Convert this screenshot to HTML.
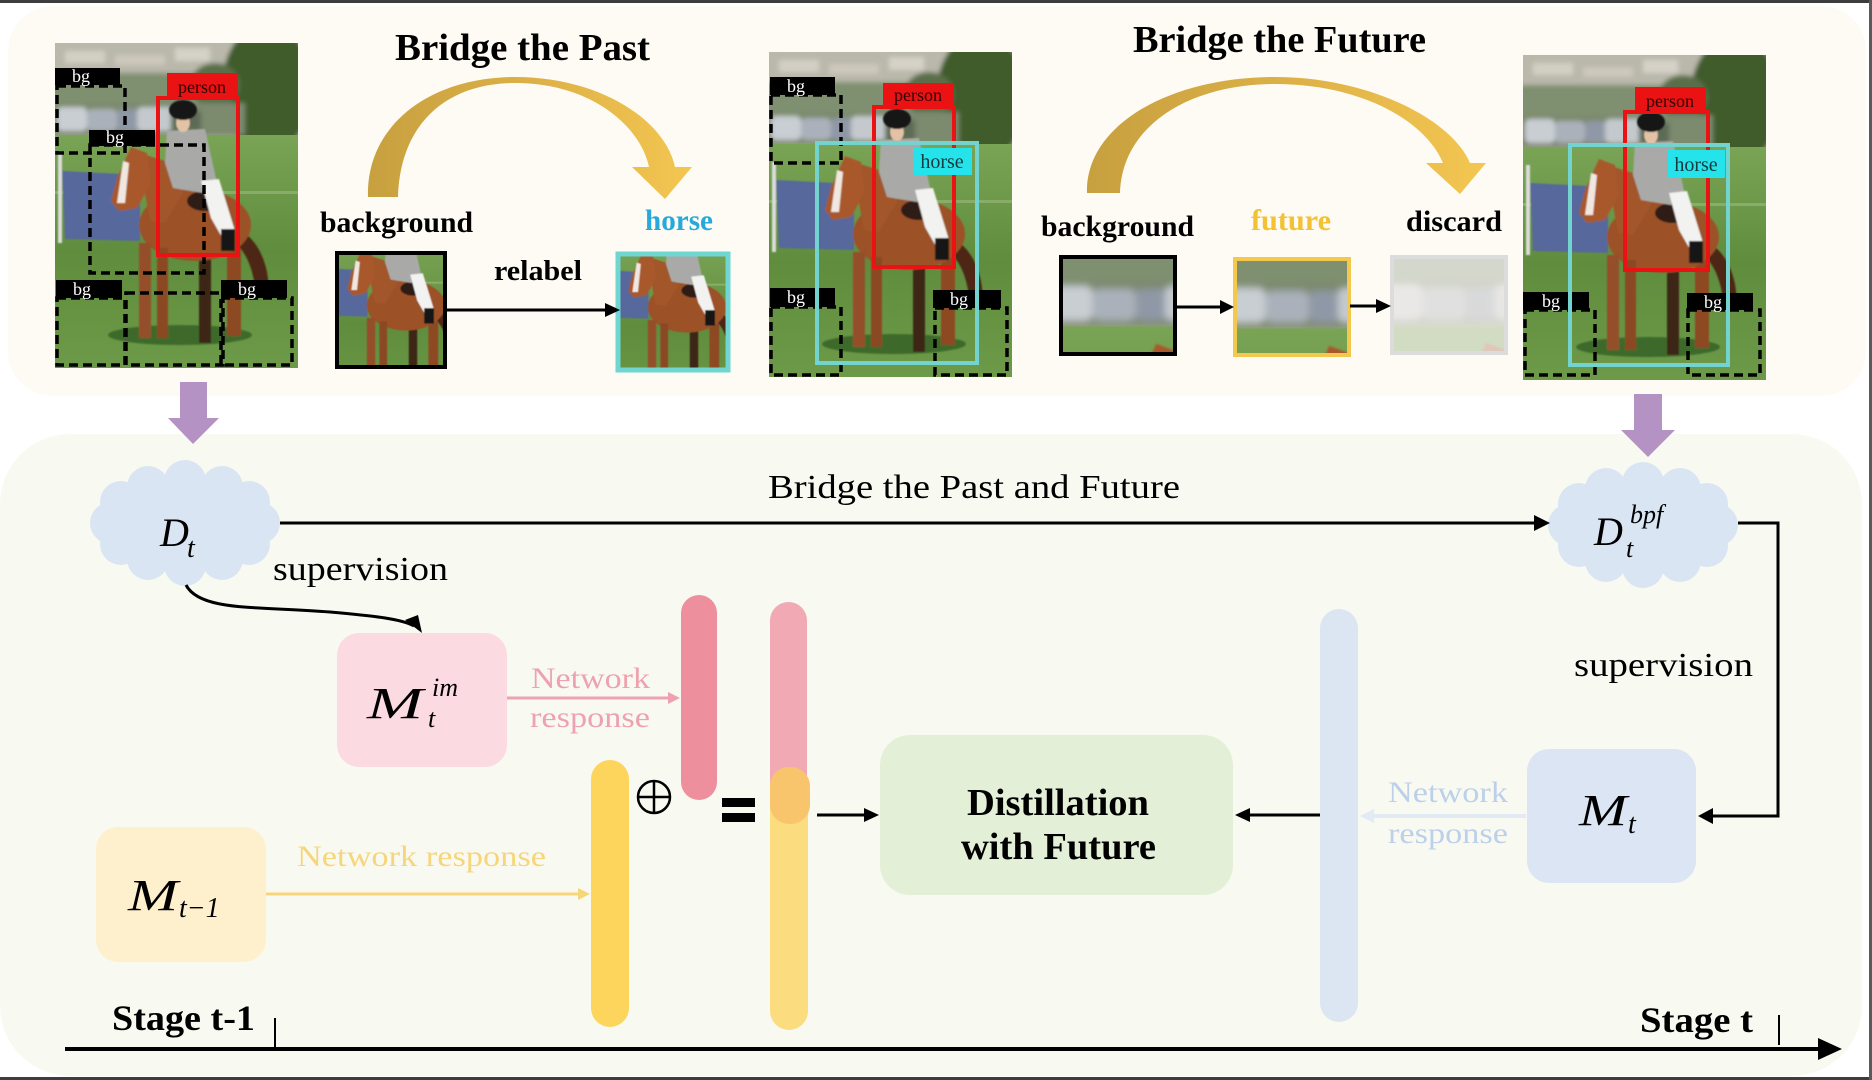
<!DOCTYPE html>
<html><head><meta charset="utf-8"><style>
html,body{margin:0;padding:0;background:#fff;font-family:"Liberation Serif","Times New Roman",Times,serif;}
svg{display:block;font-family:"Liberation Serif","Times New Roman",Times,serif;}
svg text{font-family:"Liberation Serif","Times New Roman",Times,serif;}
</style></head><body>
<svg width="1872" height="1080" viewBox="0 0 1872 1080" xmlns="http://www.w3.org/2000/svg" font-family="Liberation Serif, Times New Roman, Times, serif">
<defs>
<linearGradient id="gold" x1="0" y1="0" x2="1" y2="0">
<stop offset="0" stop-color="#c7a03f"/><stop offset="0.5" stop-color="#dcb047"/><stop offset="1" stop-color="#f4c651"/>
</linearGradient>
<linearGradient id="grass" x1="0" y1="0" x2="0" y2="1">
<stop offset="0" stop-color="#7aa455"/><stop offset="0.5" stop-color="#5f8d3d"/><stop offset="1" stop-color="#6c9a48"/>
</linearGradient>
<filter id="blur" x="-10%" y="-10%" width="120%" height="120%"><feGaussianBlur stdDeviation="2.5"/></filter>
<filter id="sblur" x="-10%" y="-10%" width="120%" height="120%"><feGaussianBlur stdDeviation="0.8"/></filter>
<g id="ph">
<rect width="243" height="325" fill="#6a9446"/>
<g filter="url(#blur)">
<rect x="-5" y="-5" width="253" height="105" fill="#9ea48e"/>
<rect x="-5" y="-5" width="253" height="35" fill="#b9b8aa"/>
<rect x="10" y="8" width="40" height="12" fill="#d3cfc4"/>
<rect x="60" y="12" width="50" height="10" fill="#cdc8bc"/>
<rect x="120" y="5" width="35" height="13" fill="#d6d2c8"/>
<rect x="-5" y="30" width="253" height="32" fill="#7f9070"/>
<ellipse cx="212" cy="45" rx="45" ry="65" fill="#3f5b2c"/>
<ellipse cx="160" cy="42" rx="25" ry="22" fill="#5a6e48"/>
<rect x="-5" y="60" width="195" height="32" fill="#7b8a6e"/>
<rect x="2" y="64" width="30" height="24" rx="5" fill="#c9ced3"/>
<rect x="32" y="66" width="30" height="22" rx="5" fill="#aab1ba"/>
<rect x="62" y="66" width="22" height="22" rx="5" fill="#8f98a6"/>
<rect x="82" y="64" width="36" height="24" rx="5" fill="#c4c9ce"/>
<rect x="116" y="68" width="30" height="20" fill="#5d6b55"/>
</g>
<rect x="0" y="92" width="243" height="233" fill="url(#grass)"/>
<rect x="0" y="148" width="243" height="3" fill="#a6c08c" opacity=".5"/>
<g filter="url(#sblur)">
<path d="M7 128 L85 132 L85 198 L10 196 Z" fill="#56679c"/>
<rect x="3" y="110" width="4" height="90" fill="#dcdcdc"/>
<ellipse cx="125" cy="292" rx="72" ry="10" fill="#3e6a2a"/>
<path d="M186 188 C205 198 216 228 213 252 L201 250 C198 226 192 210 180 200Z" fill="#4d2812"/>
<rect x="172" y="205" width="14" height="88" fill="#8d4a22"/>
<rect x="144" y="205" width="12" height="95" fill="#3c2618"/>
<ellipse cx="140" cy="182" rx="56" ry="36" fill="#9c5128"/>
<path d="M78 108 L110 118 L128 150 L110 180 L95 178 L88 140Z" fill="#a2562a"/>
<path d="M76 104 L92 110 L96 140 L82 165 L64 168 L56 158 L62 135 Z" fill="#a8592b"/>
<path d="M68 118 L74 120 L70 160 L62 160 Z" fill="#f0e8e0"/>
<rect x="84" y="200" width="12" height="95" fill="#94502a"/>
<rect x="102" y="205" width="11" height="90" fill="#8a4824"/>
<ellipse cx="150" cy="158" rx="18" ry="10" fill="#2d1e16"/>
<path d="M112 88 L150 86 L162 140 L148 150 L118 145 L110 120Z" fill="#a9aaa8"/>
<path d="M146 138 L164 136 L180 188 L168 196 L156 175Z" fill="#f2f2f0"/>
<rect x="166" y="186" width="14" height="22" fill="#151515"/>
<ellipse cx="128" cy="80" rx="7" ry="9" fill="#e3c2a6"/>
<ellipse cx="128" cy="67" rx="14" ry="10" fill="#141414"/>
</g>
</g>
<g id="cloud" fill="#dae5f3">
<ellipse cx="185" cy="523" rx="82" ry="50"/>
<circle cx="259" cy="523" r="21"/><circle cx="249" cy="544" r="21"/><circle cx="222" cy="559" r="21"/>
<circle cx="185" cy="565" r="21"/><circle cx="148" cy="559" r="21"/><circle cx="121" cy="544" r="21"/>
<circle cx="111" cy="523" r="21"/><circle cx="121" cy="502" r="21"/><circle cx="148" cy="487" r="21"/>
<circle cx="185" cy="481" r="21"/><circle cx="222" cy="487" r="21"/><circle cx="249" cy="502" r="21"/>
</g>
<clipPath id="c1"><rect x="339" y="255" width="104" height="110"/></clipPath>
<clipPath id="c2"><rect x="620" y="256" width="106" height="112"/></clipPath>
<clipPath id="c3"><rect x="1063" y="259" width="110" height="93"/></clipPath>
<clipPath id="c4"><rect x="1236" y="261" width="112" height="93"/></clipPath>
<clipPath id="c5"><rect x="1393" y="258" width="112" height="93"/></clipPath>
<clipPath id="p1"><rect x="55" y="43" width="243" height="325"/></clipPath>
<clipPath id="p2"><rect x="769" y="52" width="243" height="328"/></clipPath>
<clipPath id="p3"><rect x="1523" y="55" width="243" height="327"/></clipPath>
</defs>

<!-- panels -->
<rect x="8" y="6" width="1858" height="390" rx="45" fill="#fdfbf3"/>
<rect x="0" y="434" width="1862" height="642" rx="70" fill="#f8faf2"/>
<rect x="0" y="0" width="1872" height="3" fill="#3d3d3d"/>
<rect x="0" y="1077" width="1872" height="3" fill="#3d3d3d"/>
<rect x="1869" y="0" width="3" height="1080" fill="#5a5a5a"/>

<!-- Photo 1 -->
<g clip-path="url(#p1)"><use href="#ph" transform="translate(55,43)"/></g>
<g transform="translate(55,43)">
<g fill="none" stroke="#000" stroke-width="3.5" stroke-dasharray="9 5">
<rect x="2" y="43" width="68" height="67"/>
<rect x="35" y="102" width="114" height="128"/>
<rect x="2" y="255" width="68" height="67"/>
<rect x="71" y="250" width="97" height="72"/>
<rect x="166" y="255" width="71" height="67"/>
</g>
<rect x="103" y="55" width="80" height="157" fill="none" stroke="#ea1212" stroke-width="4"/>
<rect x="112" y="30" width="71" height="26" fill="#ea1212"/>
<text x="147" y="50" font-size="18" text-anchor="middle" fill="#2a0505">person</text>
<g fill="#000"><rect x="0" y="25" width="65" height="17"/><rect x="34" y="87" width="66" height="16"/><rect x="1" y="237" width="66" height="18"/><rect x="166" y="237" width="66" height="18"/></g>
<g fill="#fff" font-size="18" text-anchor="middle"><text x="26" y="39">bg</text><text x="60" y="100">bg</text><text x="27" y="252">bg</text><text x="192" y="252">bg</text></g>
</g>

<!-- Title Past -->
<text x="395" y="60" font-size="38" font-weight="bold" textLength="255" lengthAdjust="spacingAndGlyphs">Bridge the Past</text>
<path d="M368 197 C366 125 430 77 515 77 C600 77 665 120 675 167 L692 167 L665 199 L632 167 L649 167 C640 125 590 83 515 83 C445 83 400 125 398 197 Z" fill="url(#gold)"/>
<text x="320" y="232" font-size="30" font-weight="bold" textLength="153" lengthAdjust="spacingAndGlyphs">background</text>
<text x="645" y="230" font-size="30" font-weight="bold" fill="#27a9dc" textLength="68" lengthAdjust="spacingAndGlyphs">horse</text>
<text x="494" y="280" font-size="28" font-weight="bold" textLength="88" lengthAdjust="spacingAndGlyphs">relabel</text>
<g clip-path="url(#c1)"><use href="#ph" transform="translate(308,178) scale(0.7)"/></g>
<rect x="337" y="253" width="108" height="114" fill="none" stroke="#000" stroke-width="4"/>
<g clip-path="url(#c2)"><use href="#ph" transform="translate(589,180) scale(0.7)"/></g>
<rect x="618" y="254" width="110" height="116" fill="none" stroke="#6fd6d2" stroke-width="5"/>
<line x1="445" y1="310" x2="608" y2="310" stroke="#000" stroke-width="3"/>
<path d="M605 303 L620 310 L605 317 Z" fill="#000"/>

<!-- Photo 2 -->
<g clip-path="url(#p2)"><use href="#ph" transform="translate(769,52)"/></g>
<g transform="translate(769,52)">
<g fill="none" stroke="#000" stroke-width="3.5" stroke-dasharray="9 5">
<rect x="2" y="43" width="70" height="68"/>
<rect x="2" y="255" width="70" height="68"/>
<rect x="166" y="256" width="72" height="67"/>
</g>
<rect x="105" y="55" width="80" height="160" fill="none" stroke="#ea1212" stroke-width="4"/>
<rect x="114" y="31" width="71" height="24" fill="#ea1212"/>
<text x="149" y="49" font-size="18" text-anchor="middle" fill="#2a0505">person</text>
<g fill="#000"><rect x="1" y="25" width="65" height="18"/><rect x="1" y="236" width="65" height="19"/><rect x="164" y="238" width="68" height="18"/></g>
<g fill="#fff" font-size="18" text-anchor="middle"><text x="27" y="40">bg</text><text x="27" y="251">bg</text><text x="190" y="253">bg</text></g>
<rect x="48" y="91" width="160" height="220" fill="none" stroke="#72d3cf" stroke-width="4"/>
<rect x="144" y="96" width="59" height="27" fill="#25e3ea"/>
<text x="173" y="116" font-size="20" text-anchor="middle" fill="#163a3e">horse</text>
</g>

<!-- Title Future -->
<text x="1133" y="52" font-size="38" font-weight="bold" textLength="293" lengthAdjust="spacingAndGlyphs">Bridge the Future</text>
<path d="M1087 193 C1085 125 1170 77 1275 77 C1370 77 1452 120 1470 163 L1486 163 L1460 194 L1426 163 L1443 163 C1425 120 1360 84 1275 84 C1190 84 1122 125 1120 193 Z" fill="url(#gold)"/>
<text x="1041" y="236" font-size="30" font-weight="bold" textLength="153" lengthAdjust="spacingAndGlyphs">background</text>
<text x="1251" y="230" font-size="30" font-weight="bold" fill="#f2c234" textLength="80" lengthAdjust="spacingAndGlyphs">future</text>
<text x="1406" y="231" font-size="30" font-weight="bold" textLength="96" lengthAdjust="spacingAndGlyphs">discard</text>
<g clip-path="url(#c3)"><use href="#ph" transform="translate(1046,193) scale(1.45)"/></g>
<rect x="1061" y="257" width="114" height="97" fill="none" stroke="#000" stroke-width="4"/>
<g clip-path="url(#c4)"><use href="#ph" transform="translate(1219,195) scale(1.45)"/></g>
<rect x="1235" y="259" width="114" height="96" fill="none" stroke="#f3c84c" stroke-width="4"/>
<g clip-path="url(#c5)"><use href="#ph" transform="translate(1376,192) scale(1.45)"/><rect x="1390" y="255" width="120" height="100" fill="#f5f3ee" opacity="0.72"/></g>
<rect x="1392" y="257" width="114" height="96" fill="none" stroke="#dcdcdc" stroke-width="4"/>
<line x1="1175" y1="307" x2="1222" y2="307" stroke="#000" stroke-width="3"/>
<path d="M1220 300 L1234 307 L1220 314 Z" fill="#000"/>
<line x1="1350" y1="306" x2="1378" y2="306" stroke="#000" stroke-width="3"/>
<path d="M1376 299 L1391 306 L1376 313 Z" fill="#000"/>

<!-- Photo 3 -->
<g clip-path="url(#p3)"><use href="#ph" transform="translate(1523,55)"/></g>
<g transform="translate(1523,55)">
<g fill="none" stroke="#000" stroke-width="3.5" stroke-dasharray="9 5">
<rect x="2" y="255" width="70" height="65"/>
<rect x="165" y="255" width="72" height="65"/>
</g>
<rect x="102" y="57" width="83" height="158" fill="none" stroke="#ea1212" stroke-width="4"/>
<rect x="112" y="32" width="71" height="26" fill="#ea1212"/>
<text x="147" y="52" font-size="18" text-anchor="middle" fill="#2a0505">person</text>
<g fill="#000"><rect x="0" y="237" width="66" height="18"/><rect x="164" y="238" width="66" height="17"/></g>
<g fill="#fff" font-size="18" text-anchor="middle"><text x="28" y="252">bg</text><text x="190" y="253">bg</text></g>
<rect x="47" y="90" width="158" height="220" fill="none" stroke="#72d3cf" stroke-width="4"/>
<rect x="145" y="95" width="57" height="28" fill="#25e3ea"/>
<text x="173" y="116" font-size="20" text-anchor="middle" fill="#163a3e">horse</text>
</g>

<!-- purple arrows -->
<g fill="#b592c4">
<rect x="180" y="382" width="27" height="37"/><path d="M168 418 L219 418 L193 444 Z"/>
<rect x="1634" y="394" width="28" height="37"/><path d="M1621 430 L1675 430 L1648 457 Z"/>
</g>

<!-- clouds -->
<use href="#cloud"/>
<use href="#cloud" transform="translate(1458,2)"/>
<text x="160" y="546" font-size="40" font-style="italic">D</text>
<text x="187" y="557" font-size="28" font-style="italic">t</text>
<text x="1594" y="545" font-size="40" font-style="italic">D</text>
<text x="1630" y="523" font-size="26" font-style="italic">bpf</text>
<text x="1626" y="557" font-size="26" font-style="italic">t</text>

<text x="768" y="498" font-size="34" textLength="412" lengthAdjust="spacingAndGlyphs">Bridge the Past and Future</text>
<line x1="280" y1="523" x2="1536" y2="523" stroke="#000" stroke-width="3"/>
<path d="M1534 515 L1550 523 L1534 531 Z" fill="#000"/>
<polyline points="1738,523 1778,523 1778,816 1712,816" fill="none" stroke="#000" stroke-width="3"/>
<path d="M1713 808 L1698 816 L1713 824 Z" fill="#000"/>

<text x="273" y="580" font-size="34" textLength="175" lengthAdjust="spacingAndGlyphs">supervision</text>
<text x="1574" y="676" font-size="34" textLength="179" lengthAdjust="spacingAndGlyphs">supervision</text>
<path d="M186 585 C200 612 260 606 330 612 C375 616 402 619 414 626" fill="none" stroke="#000" stroke-width="3"/>
<path d="M405 620 L422 633 L418 615 Z" fill="#000"/>

<!-- M_t^im -->
<rect x="337" y="633" width="170" height="134" rx="22" fill="#fbdbe1"/>
<text x="367" y="718" font-size="44" font-style="italic" textLength="56" lengthAdjust="spacingAndGlyphs">M</text>
<text x="432" y="696" font-size="26" font-style="italic">im</text>
<text x="428" y="727" font-size="26" font-style="italic">t</text>
<text x="531" y="688" font-size="30" fill="#eea1ae" textLength="119" lengthAdjust="spacingAndGlyphs">Network</text>
<text x="530" y="727" font-size="30" fill="#eea1ae" textLength="120" lengthAdjust="spacingAndGlyphs">response</text>
<line x1="507" y1="698" x2="670" y2="698" stroke="#eea1ae" stroke-width="3"/>
<path d="M668 692 L680 698 L668 704 Z" fill="#eea1ae"/>

<!-- bars -->
<rect x="681" y="595" width="36" height="205" rx="18" fill="#ee8f9d"/>
<rect x="770" y="602" width="37" height="221" rx="18.5" fill="#f1a9b3"/>
<rect x="770" y="767" width="38" height="263" rx="19" fill="#fbdc7f"/>
<rect x="770" y="767" width="40" height="57" rx="19" fill="#f8c46c"/>
<rect x="591" y="760" width="38" height="267" rx="19" fill="#fdd55c"/>
<rect x="1320" y="609" width="38" height="413" rx="19" fill="#dce6f2"/>

<!-- oplus and equals -->
<circle cx="654" cy="797" r="16" fill="none" stroke="#000" stroke-width="2.5"/>
<line x1="638" y1="797" x2="670" y2="797" stroke="#000" stroke-width="2.5"/>
<line x1="654" y1="781" x2="654" y2="813" stroke="#000" stroke-width="2.5"/>
<rect x="722" y="798" width="33" height="9" fill="#000"/>
<rect x="722" y="813" width="33" height="9" fill="#000"/>
<line x1="817" y1="815" x2="866" y2="815" stroke="#000" stroke-width="3"/>
<path d="M864 808 L879 815 L864 822 Z" fill="#000"/>

<!-- Distillation -->
<rect x="880" y="735" width="353" height="160" rx="30" fill="#e3efd6"/>
<text x="967" y="815" font-size="38" font-weight="bold" textLength="182" lengthAdjust="spacingAndGlyphs">Distillation</text>
<text x="961" y="859" font-size="38" font-weight="bold" textLength="195" lengthAdjust="spacingAndGlyphs">with Future</text>
<line x1="1320" y1="815" x2="1248" y2="815" stroke="#000" stroke-width="3"/>
<path d="M1250 808 L1235 815 L1250 822 Z" fill="#000"/>

<!-- M_t -->
<line x1="1526" y1="816" x2="1372" y2="816" stroke="#e2eaf4" stroke-width="4"/>
<path d="M1374 809 L1360 816 L1374 823 Z" fill="#e2eaf4"/>
<text x="1388" y="802" font-size="30" fill="#bdd0ea" textLength="120" lengthAdjust="spacingAndGlyphs">Network</text>
<text x="1388" y="843" font-size="30" fill="#bdd0ea" textLength="120" lengthAdjust="spacingAndGlyphs">response</text>
<rect x="1527" y="749" width="169" height="134" rx="22" fill="#dbe5f3"/>
<text x="1579" y="825" font-size="44" font-style="italic" textLength="48" lengthAdjust="spacingAndGlyphs">M</text>
<text x="1628" y="833" font-size="28" font-style="italic">t</text>

<!-- M_{t-1} -->
<rect x="96" y="827" width="170" height="135" rx="22" fill="#fff0cd"/>
<text x="128" y="910" font-size="44" font-style="italic" textLength="50" lengthAdjust="spacingAndGlyphs">M</text>
<text x="179" y="917" font-size="28" font-style="italic">t−1</text>
<text x="297" y="866" font-size="30" fill="#f6d57b" textLength="249" lengthAdjust="spacingAndGlyphs">Network response</text>
<line x1="266" y1="894" x2="580" y2="894" stroke="#f6d67b" stroke-width="3"/>
<path d="M578 888 L590 894 L578 900 Z" fill="#f6d67b"/>

<!-- timeline -->
<line x1="65" y1="1049" x2="1822" y2="1049" stroke="#000" stroke-width="4"/>
<path d="M1818 1038 L1842 1049 L1818 1060 Z" fill="#000"/>
<line x1="275" y1="1018" x2="275" y2="1049" stroke="#000" stroke-width="2"/>
<line x1="1779" y1="1015" x2="1779" y2="1045" stroke="#000" stroke-width="2"/>
<text x="112" y="1030" font-size="36" font-weight="bold" textLength="143" lengthAdjust="spacingAndGlyphs">Stage t-1</text>
<text x="1640" y="1032" font-size="36" font-weight="bold" textLength="113" lengthAdjust="spacingAndGlyphs">Stage t</text>
</svg>
</body></html>
